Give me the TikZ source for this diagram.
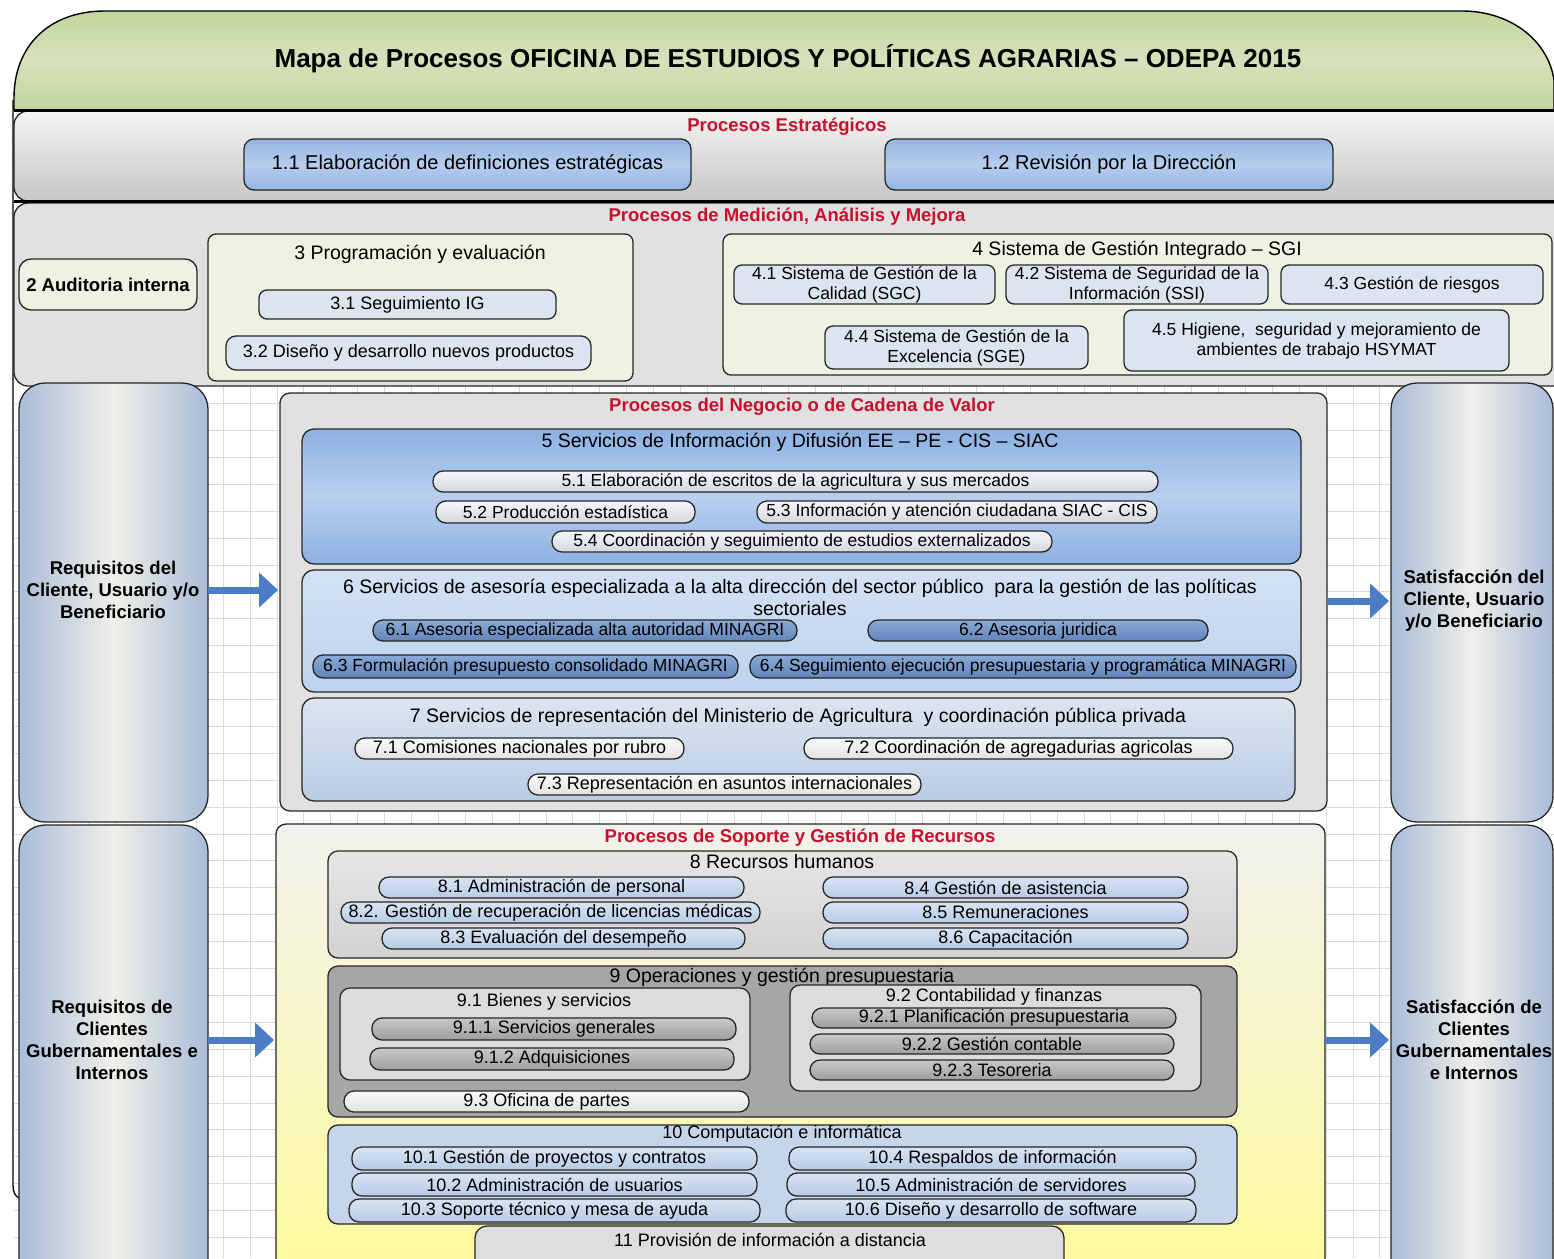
\documentclass[tikz,border=0pt]{standalone}
\usepackage{fontspec}
\setmainfont{Liberation Sans}
\usetikzlibrary{arrows.meta}
\definecolor{hdrA}{HTML}{C3D59C}
\definecolor{hdrM}{HTML}{D6E2BC}
\definecolor{bandEt}{HTML}{F4F4F2}
\definecolor{bandEb}{HTML}{C6C6C6}
\definecolor{bandM}{HTML}{E1E1E1}
\definecolor{grnL}{HTML}{EEF2E3}
\definecolor{pillL}{HTML}{DCE4F0}
\definecolor{blueA}{HTML}{93B4E3}
\definecolor{blueM}{HTML}{B6CDEE}
\definecolor{bfA}{HTML}{8DB1E1}
\definecolor{bfM}{HTML}{B9CFEF}
\definecolor{pft}{HTML}{F5F6F8}
\definecolor{pfb}{HTML}{D3D8DE}
\definecolor{bst}{HTML}{D3E1F4}
\definecolor{bsb}{HTML}{BED2EE}
\definecolor{pst}{HTML}{8AAAD6}
\definecolor{psb}{HTML}{6284B9}
\definecolor{bvt}{HTML}{DCE5F0}
\definecolor{bvb}{HTML}{B8CCE4}
\definecolor{pvt}{HTML}{FAFAFA}
\definecolor{pvb}{HTML}{E2E2E2}
\definecolor{sopt}{HTML}{F2F2EE}
\definecolor{sopb}{HTML}{FFFB98}
\definecolor{bet}{HTML}{E6E6E6}
\definecolor{beb}{HTML}{D2D2D2}
\definecolor{pet}{HTML}{D8E4F3}
\definecolor{peb}{HTML}{B7CBE5}
\definecolor{bnc}{HTML}{A6A6A6}
\definecolor{bnin}{HTML}{DCDCDC}
\definecolor{pnt}{HTML}{C8C8C8}
\definecolor{pnb}{HTML}{9E9E9E}
\definecolor{btc}{HTML}{C6D6EA}
\definecolor{pelc}{HTML}{DEDEDE}
\definecolor{sideE}{HTML}{A9BCD8}
\definecolor{sideM}{HTML}{F0F0E8}
\definecolor{arrowc}{HTML}{4A7DC6}
\definecolor{gridc}{HTML}{DADADA}
\definecolor{redT}{HTML}{C8102E}
\newcommand\fsz[2]{\fontsize{#1}{#2}\selectfont}
\newcommand\bx[7]{\node[#6,minimum width={(#4)-(#2)},minimum height={(#5)-(#3)}] (#1) at ({((#2)+(#4))/2},{((#3)+(#5))/2}) {#7};}
\begin{document}
\begin{tikzpicture}[x=1pt,y=-1pt,
  every node/.append style={font=\fsz{18}{20}},
  frame/.style={draw=black!85, line width=1.3pt, inner sep=0pt, outer sep=0pt, align=center},
  box/.style={frame, rounded corners=8pt},
  pill/.style={frame, rounded corners=10pt, font=\fsz{18}{20}},
  pillfive/.style={pill, top color=pft, bottom color=pfb, font=\fsz{17.5}{20}},
  pillsix/.style={pill, top color=pst, bottom color=psb, font=\fsz{17.5}{20}},
  pillseven/.style={pill, top color=pvt, bottom color=pvb},
  pilleight/.style={pill, top color=pet, bottom color=peb},
  pillnine/.style={pill, top color=pnt, bottom color=pnb},
  sgibox/.style={box, fill=pillL, font=\fsz{17.5}{20}},
  redt/.style={text=redT, font=\bfseries\fsz{18.5}{22}, yshift=-2pt},
  ttl/.style={font=\fsz{19.5}{22}, align=center, yshift=-2pt},
  side/.style={frame, rounded corners=26pt, left color=sideE, right color=sideE, middle color=sideM},
  sidetext/.style={font=\bfseries\fsz{18.5}{22}, align=center},
  barrow/.style={draw=arrowc, line width=7pt, -{Triangle[length=19pt,width=34pt]}, shorten >=2pt}
]
\useasboundingbox (0,0) rectangle (1554,1258);
\clip (0,0) rectangle (1554,1258);
\fill[white] (0,0) rectangle (1554,1258);

% grid area
\begin{scope}
\clip (14,386) rectangle (1554,1258);
\foreach \i in {0,...,58} \draw[gridc, line width=1pt] ({8+26.9*\i},386) -- ({8+26.9*\i},1258);
\foreach \j in {0,...,33} \draw[gridc, line width=1pt] (14,{376.7+26.9*\j}) -- (1554,{376.7+26.9*\j});
\end{scope}

% left frame line
\draw[line width=1.3pt] (13,100) -- (13,1185) .. controls (13,1192) and (15,1196) .. (19,1198);

% header
\path[draw=black, line width=1.4pt, top color=hdrA, bottom color=hdrA, middle color=hdrM]
  (14,110) -- (14,98) .. controls (14,45) and (50,11) .. (105,11) -- (1462,11)
  .. controls (1510,11) and (1548,40) .. (1554,80) -- (1554,110) -- cycle;
\node[font=\bfseries\fsz{26}{30}] (title) at (788,59) {Mapa de Procesos OFICINA DE ESTUDIOS Y POLÍTICAS AGRARIAS – ODEPA 2015};

% Procesos estrategicos
\bx{bandE}{14}{111}{1600}{201}{frame, rounded corners=14pt, top color=bandEt, bottom color=bandEb}{}
\node[redt] (tE) at (787,125) {Procesos Estratégicos};
\bx{pa}{244}{139}{691}{190}{box, rounded corners=10pt, top color=blueA, bottom color=blueA, middle color=blueM, font=\fsz{20}{24}}{1.1 Elaboración de definiciones estratégicas}
\bx{pb}{885}{139}{1333}{190}{box, rounded corners=10pt, top color=blueA, bottom color=blueA, middle color=blueM, font=\fsz{20}{24}}{1.2 Revisión por la Dirección}

% Medicion
\bx{bandM}{14}{203}{1600}{386}{frame, rounded corners=14pt, fill=bandM}{}
\draw[line width=3pt] (14,110) -- (1554,110);
\draw[line width=3pt] (14,201.5) -- (1554,201.5);
\node[redt] (tM) at (787,215) {Procesos de Medición, Análisis y Mejora};
\bx{aud}{19}{259}{197}{310}{box, rounded corners=12pt, fill=grnL, font=\bfseries\fsz{18.5}{22}}{2 Auditoria interna}
\bx{pr}{208}{234}{633}{381}{box, fill=grnL}{}
\node[ttl] (tpr) at (420,252) {3 Programación y evaluación};
\bx{pra}{259}{290}{556}{319}{box, fill=pillL}{3.1 Seguimiento IG}
\bx{prb}{226}{336}{591}{370}{box, rounded corners=10pt, fill=pillL}{3.2 Diseño y desarrollo nuevos productos}
\bx{sgi}{723}{234}{1552}{375}{box, fill=grnL}{}
\node[ttl] (tsgi) at (1137,248) {4 Sistema de Gestión Integrado – SGI};
\bx{sa}{734}{265}{995}{304}{sgibox}{4.1 Sistema de Gestión de la\\Calidad (SGC)}
\bx{sb}{1006}{265}{1268}{304}{sgibox}{4.2 Sistema de Seguridad de la\\Información (SSI)}
\bx{sc}{1281}{265}{1543}{304}{sgibox}{4.3 Gestión de riesgos}
\bx{sd}{825}{326}{1088}{369}{sgibox}{4.4 Sistema de Gestión de la\\Excelencia (SGE)}
\bx{se}{1124}{310}{1509}{371}{sgibox}{4.5 Higiene,\ \ seguridad y mejoramiento de\\ambientes de trabajo HSYMAT}

% side columns
\bx{reqa}{19}{383}{208}{822}{side}{}
\node[sidetext] (reqat) at (113,590) {Requisitos del\\Cliente, Usuario y/o\\Beneficiario};
\bx{reqb}{19}{825}{208}{1300}{side}{}
\node[sidetext] (reqbt) at (112,1040) {Requisitos de\\Clientes\\Gubernamentales e\\Internos};
\bx{sata}{1391}{383}{1553}{822}{side}{}
\node[sidetext] (satat) at (1474,601) {Satisfacción del\\Cliente, Usuario\\y/o Beneficiario};
\bx{satb}{1391}{825}{1553}{1300}{side}{}
\node[sidetext] (satbt) at (1474,1040) {Satisfacción de\\Clientes\\Gubernamentales\\e Internos};

% Negocio
\bx{neg}{280}{393}{1327}{811}{box, rounded corners=10pt, fill=bandM}{}
\node[redt] (tN) at (802,405) {Procesos del Negocio o de Cadena de Valor};
\bx{sv}{302}{429}{1301}{564}{box, rounded corners=12pt, top color=bfA, bottom color=bfA, middle color=bfM}{}
\node[ttl] (tsv) at (800,440) {5 Servicios de Información y Difusión EE – PE - CIS – SIAC};
\bx{sva}{433}{471}{1158}{492}{pillfive}{5.1 Elaboración de escritos de la agricultura y sus mercados}
\bx{svb}{436}{501}{695}{523}{pillfive}{5.2 Producción estadística}
\bx{svc}{757}{501}{1157}{523}{pillfive}{5.3 Información y atención ciudadana SIAC - CIS}
\bx{svd}{552}{531}{1052}{552}{pillfive}{5.4 Coordinación y seguimiento de estudios externalizados}

\bx{as}{302}{570}{1301}{692}{box, rounded corners=12pt, top color=bst, bottom color=bsb}{}
\node[ttl, yshift=2pt] (tas) at (800,597) {6 Servicios de asesoría especializada a la alta dirección del sector público\ \ para la gestión de las políticas\\sectoriales};
\bx{asa}{373}{620}{797}{641}{pillsix}{6.1 Asesoria especializada alta autoridad MINAGRI}
\bx{asb}{868}{620}{1208}{641}{pillsix}{6.2 Asesoria juridica}
\bx{asc}{313}{655}{738}{678}{pillsix}{6.3 Formulación presupuesto consolidado MINAGRI}
\bx{asd}{750}{655}{1296}{678}{pillsix}{6.4 Seguimiento ejecución presupuestaria y programática MINAGRI}

\bx{rp}{302}{698}{1295}{801}{box, rounded corners=12pt, top color=bvt, bottom color=bvb}{}
\node[ttl] (trp) at (798,715) {7 Servicios de representación del Ministerio de Agricultura\ \ y coordinación pública privada};
\bx{rpa}{355}{738}{684}{759}{pillseven}{7.1 Comisiones nacionales por rubro}
\bx{rpb}{804}{738}{1233}{759}{pillseven}{7.2 Coordinación de agregadurias agricolas}
\bx{rpc}{528}{774}{921}{795}{pillseven}{7.3 Representación en asuntos internacionales}

% Soporte
\bx{sop}{276}{824}{1325}{1300}{box, rounded corners=10pt, top color=sopt, bottom color=sopb}{}
\node[redt] (tS) at (800,836) {Procesos de Soporte y Gestión de Recursos};
\bx{rh}{328}{851}{1237}{958}{box, rounded corners=10pt, top color=bet, bottom color=beb}{}
\node[ttl] (trh) at (782,860) {8 Recursos humanos};
\bx{rha}{379}{877}{744}{898}{pilleight}{8.1 Administración de personal}
\bx{rhb}{341}{902}{760}{923}{pilleight}{8.2. Gestión de recuperación de licencias médicas}
\bx{rhc}{382}{928}{745}{949}{pilleight}{8.3 Evaluación del desempeño}
\bx{rhd}{823}{877}{1188}{898}{pilleight}{8.4 Gestión de asistencia}
\bx{rhe}{823}{902}{1188}{923}{pilleight}{8.5 Remuneraciones}
\bx{rhf}{823}{928}{1188}{949}{pilleight}{8.6 Capacitación}

\bx{op}{328}{966}{1237}{1117}{box, rounded corners=10pt, fill=bnc}{}
\node[ttl] (top) at (782,975) {9 Operaciones y gestión presupuestaria};
\bx{opa}{340}{988}{750}{1080}{box, rounded corners=10pt, fill=bnin}{}
\node (topa) at (544,1002) {9.1 Bienes y servicios};
\bx{opaa}{372}{1018}{736}{1040}{pillnine}{9.1.1 Servicios generales}
\bx{opab}{370}{1048}{734}{1070}{pillnine}{9.1.2 Adquisiciones}
\bx{opb}{790}{985}{1201}{1091}{box, rounded corners=10pt, fill=bnin}{}
\node (topb) at (994,997) {9.2 Contabilidad y finanzas};
\bx{opba}{812}{1008}{1176}{1028}{pillnine}{9.2.1 Planificación presupuestaria}
\bx{opbb}{810}{1034}{1174}{1054}{pillnine}{9.2.2 Gestión contable}
\bx{opbc}{810}{1060}{1174}{1080}{pillnine}{9.2.3 Tesoreria}
\bx{opc}{344}{1091}{749}{1112}{pill, top color=pvt, bottom color=pvb}{9.3 Oficina de partes}

\bx{ci}{328}{1125}{1237}{1224}{box, rounded corners=10pt, fill=btc}{}
\node (tci) at (782,1134) {10 Computación e informática};
\bx{cia}{352}{1147}{757}{1170}{pilleight}{10.1 Gestión de proyectos y contratos}
\bx{cib}{352}{1173}{757}{1196}{pilleight}{10.2 Administración de usuarios}
\bx{cic}{349}{1199}{760}{1222}{pilleight}{10.3 Soporte técnico y mesa de ayuda}
\bx{cid}{789}{1147}{1196}{1170}{pilleight}{10.4 Respaldos de información}
\bx{cie}{787}{1173}{1195}{1196}{pilleight}{10.5 Administración de servidores}
\bx{cif}{786}{1199}{1196}{1222}{pilleight}{10.6 Diseño y desarrollo de software}

\bx{pdist}{475}{1226}{1064}{1300}{box, rounded corners=12pt, fill=pelc}{}
\node (tpdist) at (770,1240) {11 Provisión de información a distancia};

% arrows
\draw[barrow] (reqa.east |- reqat) -- (reqat -| neg.west);
\draw[barrow] (neg.east |- satat) -- (satat -| sata.west);
\draw[barrow] (reqb.east |- reqbt) -- (reqbt -| sop.west);
\draw[barrow] (sop.east |- satbt) -- (satbt -| satb.west);
\end{tikzpicture}
\end{document}
